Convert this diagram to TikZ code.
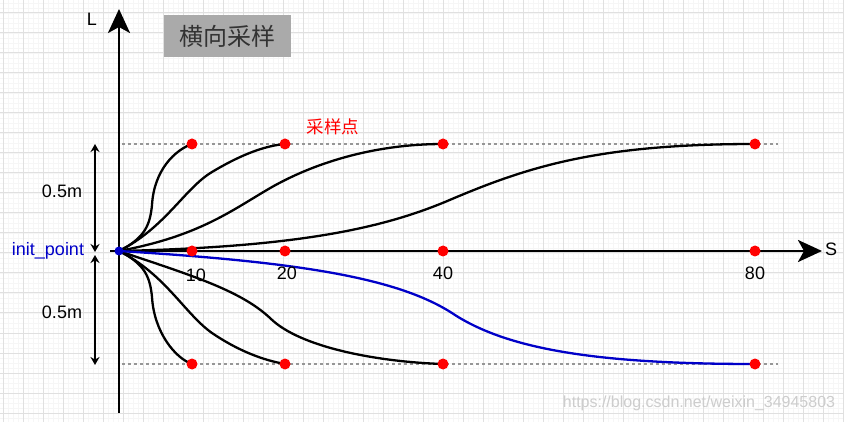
\documentclass[tikz,border=0pt]{standalone}
\usepackage{fontspec}
\setmainfont{Liberation Sans}
\newfontfamily\cjk{Noto Sans CJK SC}
\usetikzlibrary{arrows.meta}
\definecolor{gridmaj}{RGB}{224,224,224}
\definecolor{gridmin}{RGB}{246,246,246}
\definecolor{dotred}{RGB}{255,0,0}
\definecolor{pathblue}{RGB}{0,0,200}
\definecolor{titlegray}{RGB}{170,170,170}
\definecolor{titletext}{RGB}{51,51,51}
\definecolor{wmark}{RGB}{205,205,205}
\definecolor{dotgray}{RGB}{150,150,150}
\tikzset{
  reddot/.style={circle,fill=dotred,inner sep=0pt,minimum size=11pt},
  bluedot/.style={circle,fill=pathblue,inner sep=0pt,minimum size=9pt},
  axisline/.style={line width=2.8pt,black},
  curveline/.style={line width=2.3pt,black},
  bluecurve/.style={line width=2.3pt,pathblue},
  dotline/.style={line width=2.6pt,dotgray,dash pattern=on 3pt off 3pt},
  dimarrow/.style={line width=2pt,{Stealth[length=8pt,width=9pt]}-{Stealth[length=8pt,width=9pt]}},
  lbl/.style={font=\fontsize{18}{20}\selectfont,inner sep=0pt}
}
\begin{document}
\begin{tikzpicture}[x=1pt,y=-1pt]
\useasboundingbox (0,0) rectangle (844,422);
\fill[white] (0,0) rectangle (844,422);
% grid
\foreach \x in {3,8,...,843} \draw[gridmin,line width=0.8pt] (\x,0) -- (\x,422);
\foreach \y in {3,8,...,418} \draw[gridmin,line width=0.8pt] (0,\y) -- (844,\y);
\foreach \x in {3,23,...,843} \draw[gridmaj,line width=1pt] (\x,0) -- (\x,422);
\foreach \y in {13,33,...,413} \draw[gridmaj,line width=1pt] (0,\y) -- (844,\y);
% title
\node[fill=titlegray,minimum width=127pt,minimum height=42pt,inner sep=0pt,text=titletext,font=\cjk\fontsize{24}{26}\selectfont] (title) at (227.5,36) {横向采样};
% coordinates
\coordinate (O) at (119,251);
\coordinate (Lbot) at (119,413);
\coordinate (Ltop) at (119,9);
\coordinate (Sleft) at (110,251);
\coordinate (Sright) at (822,251);
% dotted lines
\coordinate (dt1) at (122,144); \coordinate (dt2) at (778,144);
\coordinate (db1) at (122,364); \coordinate (db2) at (778,364);
\draw[dotline] (dt1) -- (dt2);
\draw[dotline] (db1) -- (db2);
% axes
\draw[axisline,-{Stealth[length=24pt,width=22pt,inset=6pt]}] (Lbot) -- (Ltop);
\draw[axisline,-{Stealth[length=24pt,width=22pt,inset=6pt]}] (Sleft) -- (Sright);
\node[lbl] (Llab) at (92,19) {L};
\node[lbl] (Slab) at (831,249) {S};
% curves upper
\draw[curveline] (O) .. controls (145,238) and (150,225) .. (152,205) .. controls (154,170) and (175,150) .. (192,144);
\draw[curveline] (O) .. controls (165,228) and (185,188) .. (212,172) .. controls (237,157) and (262,146) .. (285,144);
\draw[curveline] (O) .. controls (200,236) and (232,210) .. (272,187) .. controls (320,160) and (380,144) .. (443,144);
\draw[curveline] (O) .. controls (300,247) and (385,228) .. (452,199) .. controls (530,166) and (600,144) .. (755,144);
% curves lower
\draw[curveline] (O) .. controls (145,264) and (150,277) .. (152,297) .. controls (154,332) and (175,358) .. (192,364);
\draw[curveline] (O) .. controls (165,274) and (185,314) .. (212,333) .. controls (237,350) and (262,360) .. (285,364);
\draw[curveline] (O) .. controls (190,275) and (240,290) .. (270,318) .. controls (300,348) and (380,362) .. (443,364);
\draw[bluecurve] (O) .. controls (300,262) and (400,278) .. (455,315) .. controls (510,350) and (600,364) .. (755,364);
% dots
\node[reddot] (u1) at (192,144) {};
\node[reddot] (u2) at (285,144) {};
\node[reddot] (u3) at (443,144) {};
\node[reddot] (u4) at (755,144) {};
\node[reddot] (m1) at (192,251) {};
\node[reddot] (m2) at (285,251) {};
\node[reddot] (m3) at (443,251) {};
\node[reddot] (m4) at (755,251) {};
\node[reddot] (b1) at (192,364) {};
\node[reddot] (b2) at (285,364) {};
\node[reddot] (b3) at (443,364) {};
\node[reddot] (b4) at (755,364) {};
\node[bluedot] (init) at (O) {};
% labels
\node[lbl] (t10) at (196,275) {10};
\node[lbl] (t20) at (287,273) {20};
\node[lbl] (t40) at (443,273) {40};
\node[lbl] (t80) at (755,273) {80};
\node[lbl,text=dotred,font=\cjk\fontsize{17.5}{19}\selectfont] (samp) at (333,127) {采样点};
\node[lbl,text=pathblue] (initlab) at (48,251) {init\_point};
% dimension arrows
\coordinate (a1) at (95,144); \coordinate (a2) at (95,252);
\coordinate (a3) at (95,255); \coordinate (a4) at (95,365);
\draw[dimarrow] (a1) -- (a2);
\draw[dimarrow] (a3) -- (a4);
\node[lbl] (h1) at (62,191) {0.5m};
\node[lbl] (h2) at (62,312) {0.5m};
% watermark
\node[lbl,text=wmark,font=\fontsize{16}{18}\selectfont] (wm) at (699,403) {https://blog.csdn.net/weixin\_34945803};
\end{tikzpicture}
\end{document}
